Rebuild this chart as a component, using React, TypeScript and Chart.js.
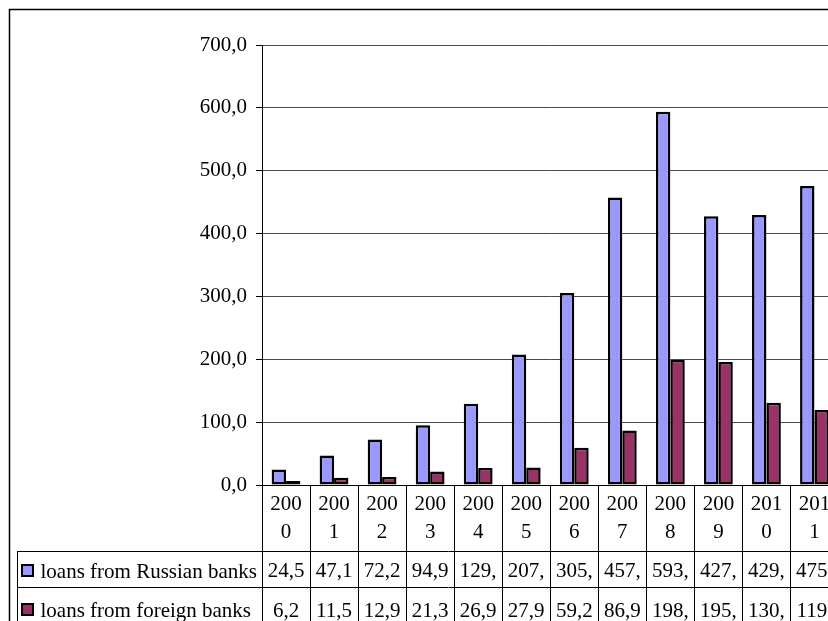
import { useEffect, useRef } from "react";
import { Chart, registerables } from "chart.js";

Chart.register(...registerables);

// Outstanding loans by year, billions
const years = ["2000", "2001", "2002", "2003", "2004", "2005", "2006", "2007", "2008", "2009", "2010", "2011"];
const russianLoans = [24.5, 47.1, 72.2, 94.9, 129.3, 207.6, 305.6, 457.4, 593.8, 427.6, 429.4, 475.6];
const foreignLoans = [6.2, 11.5, 12.9, 21.3, 26.9, 27.9, 59.2, 86.9, 198.7, 195.6, 130.8, 119.3];
const seriesNames = ["loans from Russian banks", "loans from foreign banks"];
const seriesColors = ["#9999FF", "#993366"];
const yMax = 700;
const yStep = 100;

const FAMILY = '"Liberation Serif", "Times New Roman", serif';
const FONT_SIZE = 21;
const FONT = `${FONT_SIZE}px ${FAMILY}`;

const CANVAS_W = 880;
const CANVAS_H = 660;

const fmt = (v: number) => v.toFixed(1).replace(".", ",");

// break text character by character into lines that fit the given width
function wrapChars(ctx: CanvasRenderingContext2D, text: string, maxWidth: number): string[] {
  const lines: string[] = [];
  let cur = "";
  for (const ch of text) {
    if (cur && ctx.measureText(cur + ch).width > maxWidth) {
      lines.push(cur);
      cur = ch;
    } else {
      cur += ch;
    }
  }
  if (cur) lines.push(cur);
  return lines;
}

const crisp = (v: number) => Math.round(v) + 0.5;

const dataTablePlugin = {
  id: "dataTable",
  beforeDraw(chart: any) {
    const ctx = chart.ctx as CanvasRenderingContext2D;
    ctx.save();
    ctx.fillStyle = "#ffffff";
    ctx.fillRect(0, 0, chart.width, chart.height);
    ctx.restore();
  },
  afterDraw(chart: any) {
    const ctx = chart.ctx as CanvasRenderingContext2D;
    const area = chart.chartArea;
    const xs = chart.scales.x;
    const W = chart.width;
    const H = chart.height;
    const catW = xs.getPixelForValue(1) - xs.getPixelForValue(0);

    const headerBottom = area.bottom + 66;
    const rowH = 36;
    const rowTops = [headerBottom, headerBottom + rowH];
    const legendLeft = 17;

    ctx.save();
    ctx.strokeStyle = "#000";

    // outer frame
    ctx.lineWidth = 1.5;
    ctx.strokeRect(9.5, 9.5, W + 20, H + 20);
    ctx.lineWidth = 1;

    // horizontal table rules
    ctx.beginPath();
    for (const y of rowTops) {
      ctx.moveTo(legendLeft, crisp(y));
      ctx.lineTo(W, crisp(y));
    }
    // legend column left edge
    ctx.moveTo(crisp(legendLeft), crisp(headerBottom));
    ctx.lineTo(crisp(legendLeft), H);
    // category boundaries
    for (let i = 0; i <= years.length; i++) {
      const bx = crisp(xs.getPixelForValue(i) - catW / 2);
      ctx.moveTo(bx, crisp(area.bottom));
      ctx.lineTo(bx, H);
    }
    ctx.stroke();

    ctx.font = FONT;
    ctx.fillStyle = "#000";
    ctx.textBaseline = "alphabetic";
    ctx.textAlign = "center";

    // year header (wrapped)
    years.forEach((yr, i) => {
      const cx = xs.getPixelForValue(i);
      const lines = wrapChars(ctx, yr, catW - 8);
      lines.forEach((ln, k) => {
        ctx.fillText(ln, cx, area.bottom + 25 + k * 27.5);
      });
    });

    // value rows: only the first wrapped line fits in a row
    const series = [russianLoans, foreignLoans];
    const baselines = [rowTops[0] + 26, rowTops[1] + 29.5];
    series.forEach((vals, s) => {
      vals.forEach((v, i) => {
        const cx = xs.getPixelForValue(i);
        const lines = wrapChars(ctx, fmt(v), catW - 8);
        ctx.fillText(lines[0], cx, baselines[s]);
      });
    });

    // legend keys and names
    ctx.textAlign = "left";
    const keyTops = [rowTops[0] + 14, rowTops[1] + 17];
    seriesNames.forEach((name, s) => {
      ctx.fillStyle = seriesColors[s];
      ctx.fillRect(22, keyTops[s], 11, 11);
      ctx.lineWidth = 2;
      ctx.strokeStyle = "#000";
      ctx.strokeRect(22, keyTops[s], 11, 11);
      ctx.fillStyle = "#000";
      ctx.fillText(name, 40.5, baselines[s] + 0.5);
    });

    ctx.restore();
  },
};

export default function App() {
  const canvasRef = useRef<HTMLCanvasElement | null>(null);

  useEffect(() => {
    const canvas = canvasRef.current;
    if (!canvas) return;
    const plotLeft = 262;
    const plotTop = 45;
    const plotBottom = 485;
    const plotRight = 838.5;

    const chart = new Chart(canvas, {
      type: "bar",
      data: {
        labels: years,
        datasets: [
          {
            label: seriesNames[0],
            data: russianLoans,
            backgroundColor: seriesColors[0],
            borderColor: "#000",
            borderWidth: 2.5,
            borderSkipped: false,
          },
          {
            label: seriesNames[1],
            data: foreignLoans,
            backgroundColor: seriesColors[1],
            borderColor: "#000",
            borderWidth: 2.5,
            borderSkipped: false,
          },
        ],
      },
      options: {
        responsive: false,
        animation: false,
        devicePixelRatio: 1,
        layout: {
          padding: {
            left: 0,
            top: plotTop,
            right: CANVAS_W - plotRight,
            bottom: CANVAS_H - plotBottom,
          },
        },
        datasets: {
          bar: {
            categoryPercentage: 0.6,
            barPercentage: 1.0,
          },
        },
        plugins: {
          legend: { display: false },
          tooltip: { enabled: false },
          title: { display: false },
        },
        scales: {
          x: {
            display: false,
            grid: { display: false },
          },
          y: {
            min: 0,
            max: yMax,
            afterFit: (s: any) => {
              s.width = plotLeft;
            },
            ticks: {
              stepSize: yStep,
              color: "#000",
              padding: 9,
              font: { family: FAMILY, size: FONT_SIZE },
              callback: (v: any) => fmt(Number(v)),
            },
            grid: {
              color: (c: any) => (c.tick && c.tick.value === 0 ? "#000" : "#4a4a4a"),
              lineWidth: 1,
              tickLength: 6,
              tickColor: "#000",
              drawTicks: true,
            },
            border: { display: true, color: "#000", width: 1 },
          },
        },
      },
      plugins: [dataTablePlugin],
    });

    return () => chart.destroy();
  }, []);

  return (
    <div
      style={{
        position: "fixed",
        left: 0,
        top: 0,
        width: 828,
        height: 621,
        overflow: "hidden",
        background: "#fff",
      }}
    >
      <canvas
        ref={canvasRef}
        width={CANVAS_W}
        height={CANVAS_H}
        style={{ display: "block", width: CANVAS_W, height: CANVAS_H }}
      />
    </div>
  );
}
